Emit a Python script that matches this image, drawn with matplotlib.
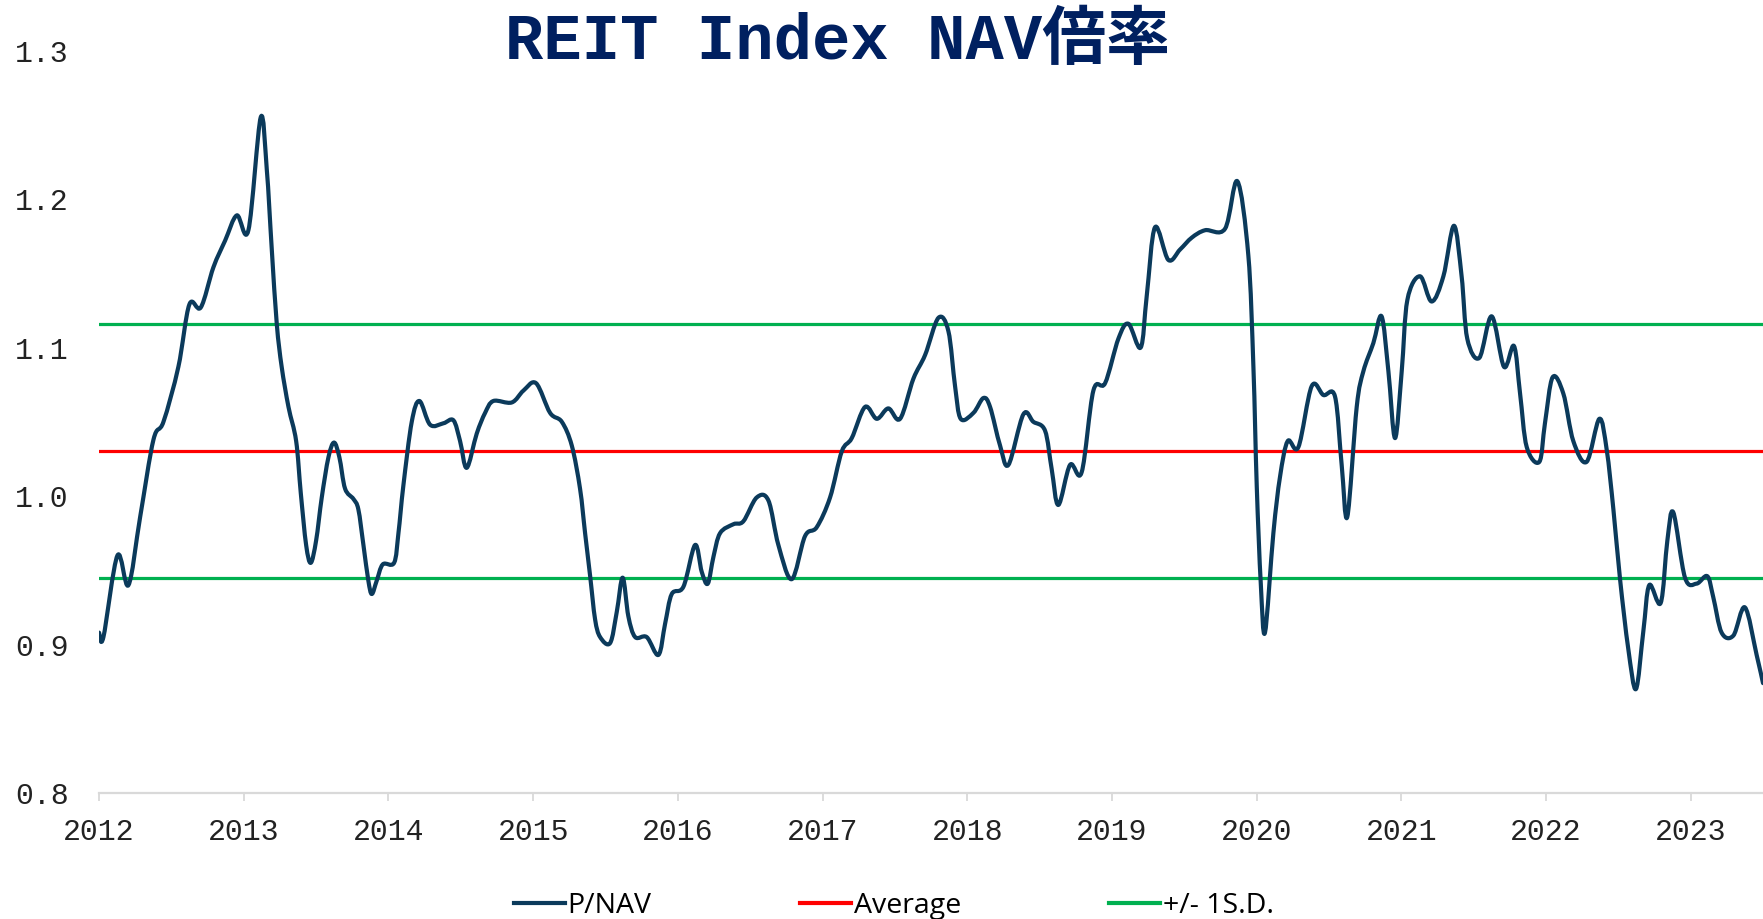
import matplotlib
matplotlib.use("Agg")
import matplotlib.pyplot as plt
from matplotlib.path import Path
from matplotlib.patches import PathPatch
from matplotlib.lines import Line2D

# --- data (decimal year, P/NAV) ---------------------------------------------
year_pos = [
    2012.000, 2012.030, 2012.127, 2012.203, 2012.284, 2012.376, 2012.445, 2012.548,
    2012.624, 2012.703, 2012.790, 2012.871, 2012.952, 2013.032, 2013.117, 2013.159,
    2013.193, 2013.228, 2013.262, 2013.309, 2013.362, 2013.394, 2013.431, 2013.463,
    2013.500, 2013.539, 2013.585, 2013.624, 2013.661, 2013.700, 2013.758, 2013.792,
    2013.827, 2013.861, 2013.885, 2013.919, 2013.961, 2014.039, 2014.069, 2014.103,
    2014.161, 2014.214, 2014.288, 2014.380, 2014.449, 2014.495, 2014.541, 2014.610,
    2014.668, 2014.725, 2014.852, 2014.933, 2015.020, 2015.117, 2015.198, 2015.267,
    2015.324, 2015.359, 2015.394, 2015.428, 2015.463, 2015.532, 2015.578, 2015.619,
    2015.658, 2015.705, 2015.785, 2015.866, 2015.912, 2015.958, 2016.039, 2016.119,
    2016.165, 2016.207, 2016.246, 2016.292, 2016.384, 2016.453, 2016.545, 2016.626,
    2016.695, 2016.787, 2016.879, 2016.960, 2017.052, 2017.133, 2017.202, 2017.294,
    2017.375, 2017.455, 2017.536, 2017.628, 2017.709, 2017.801, 2017.870, 2017.916,
    2017.955, 2018.043, 2018.112, 2018.158, 2018.227, 2018.285, 2018.388, 2018.457,
    2018.538, 2018.584, 2018.630, 2018.711, 2018.791, 2018.872, 2018.953, 2019.045,
    2019.114, 2019.199, 2019.241, 2019.298, 2019.390, 2019.471, 2019.552, 2019.644,
    2019.782, 2019.867, 2019.943, 2019.978, 2020.001, 2020.029, 2020.058, 2020.116,
    2020.162, 2020.215, 2020.289, 2020.381, 2020.462, 2020.542, 2020.588, 2020.627,
    2020.692, 2020.738, 2020.807, 2020.864, 2020.911, 2020.957, 2021.003, 2021.042,
    2021.129, 2021.210, 2021.291, 2021.364, 2021.417, 2021.456, 2021.539, 2021.625,
    2021.710, 2021.779, 2021.821, 2021.867, 2021.954, 2021.993, 2022.046, 2022.120,
    2022.189, 2022.281, 2022.369, 2022.420, 2022.466, 2022.512, 2022.569, 2022.622,
    2022.673, 2022.714, 2022.793, 2022.839, 2022.880, 2022.961, 2023.041, 2023.115,
    2023.156, 2023.214, 2023.295, 2023.375, 2023.456, 2023.500,
]
p_nav = [
    0.908, 0.905, 0.960, 0.940, 0.986, 1.038, 1.050, 1.087,
    1.129, 1.127, 1.154, 1.172, 1.189, 1.179, 1.255, 1.220,
    1.167, 1.116, 1.087, 1.060, 1.037, 1.002, 0.967, 0.955,
    0.970, 0.999, 1.026, 1.036, 1.026, 1.005, 0.998, 0.991,
    0.967, 0.943, 0.934, 0.943, 0.954, 0.955, 0.975, 1.007,
    1.050, 1.064, 1.048, 1.049, 1.051, 1.037, 1.019, 1.042,
    1.056, 1.064, 1.063, 1.071, 1.076, 1.056, 1.050, 1.034,
    1.005, 0.975, 0.946, 0.917, 0.905, 0.901, 0.922, 0.945,
    0.919, 0.905, 0.905, 0.893, 0.914, 0.934, 0.939, 0.967,
    0.949, 0.941, 0.959, 0.975, 0.981, 0.983, 0.999, 0.997,
    0.967, 0.944, 0.973, 0.979, 0.999, 1.030, 1.039, 1.060,
    1.052, 1.059, 1.052, 1.079, 1.095, 1.120, 1.111, 1.074,
    1.052, 1.056, 1.066, 1.060, 1.034, 1.021, 1.055, 1.050,
    1.044, 1.018, 0.994, 1.021, 1.016, 1.071, 1.076, 1.106,
    1.116, 1.100, 1.135, 1.181, 1.159, 1.166, 1.174, 1.179,
    1.180, 1.212, 1.162, 1.087, 1.007, 0.941, 0.908, 0.975,
    1.013, 1.037, 1.033, 1.074, 1.068, 1.067, 1.021, 0.986,
    1.060, 1.084, 1.103, 1.121, 1.084, 1.039, 1.084, 1.132,
    1.148, 1.131, 1.148, 1.182, 1.148, 1.106, 1.093, 1.121,
    1.087, 1.101, 1.069, 1.033, 1.023, 1.049, 1.080, 1.069,
    1.037, 1.023, 1.052, 1.031, 0.991, 0.944, 0.897, 0.870,
    0.909, 0.940, 0.928, 0.970, 0.989, 0.945, 0.941, 0.946,
    0.932, 0.908, 0.906, 0.925, 0.893, 0.874,
]
average = 1.0303
sd_upper = 1.1159
sd_lower = 0.9447

year_ticks = list(range(2012, 2024))
y_ticks = [0.8, 0.9, 1.0, 1.1, 1.2, 1.3]

NAVY = "#0B3A5B"
RED = "#FF0000"
GREEN = "#00B050"
AXIS_GREY = "#D9D9D9"
MONO = ["Liberation Mono", "DejaVu Sans Mono"]


def smooth_path(xs, ys):
    """Excel-style 'smoothed line': cubic Bezier segments through every point."""
    n = len(xs)
    verts = [(xs[0], ys[0])]
    codes = [Path.MOVETO]
    for i in range(n - 1):
        ip, inn = max(i - 1, 0), min(i + 2, n - 1)
        c1 = (xs[i] + (xs[i + 1] - xs[ip]) / 6.0, ys[i] + (ys[i + 1] - ys[ip]) / 6.0)
        c2 = (xs[i + 1] - (xs[inn] - xs[i]) / 6.0, ys[i + 1] - (ys[inn] - ys[i]) / 6.0)
        verts += [c1, c2, (xs[i + 1], ys[i + 1])]
        codes += [Path.CURVE4] * 3
    return Path(verts, codes)


fig = plt.figure(figsize=(17.63, 9.19), dpi=100, facecolor="white")
ax = fig.add_axes([0.0562, 0.1371, 0.9438, 0.8079])

x0, x1 = year_pos[0], 2023.5
ax.add_patch(PathPatch(smooth_path(year_pos, p_nav), facecolor="none", edgecolor=NAVY,
                       lw=3.0, joinstyle="round", capstyle="round", zorder=3))
ax.plot([x0, x1], [average, average], color=RED, lw=2.3, zorder=2)
ax.plot([x0, x1], [sd_upper, sd_upper], color=GREEN, lw=2.3, zorder=2)
ax.plot([x0, x1], [sd_lower, sd_lower], color=GREEN, lw=2.3, zorder=2)

ax.set_xlim(2012, 2023.5)
ax.set_ylim(0.8, 1.3)

for side in ("top", "right", "left"):
    ax.spines[side].set_visible(False)
ax.spines["bottom"].set_color(AXIS_GREY)
ax.spines["bottom"].set_linewidth(1.6)

ax.set_xticks(year_ticks)
ax.set_xticklabels([str(y) for y in year_ticks], family=MONO, fontsize=21.5, color="#222222")
ax.set_yticks(y_ticks)
ax.set_yticklabels([f"{v:.1f}" for v in y_ticks], family=MONO, fontsize=21.5, color="#222222")
ax.tick_params(axis="x", length=6, width=1.3, color=AXIS_GREY, pad=12)
ax.tick_params(axis="y", length=0, pad=22)

fig.text(0.475, 0.955, "REIT Index NAV倍率", ha="center", va="center",
         family=["Liberation Mono", "Noto Sans CJK JP"], fontweight="bold",
         fontsize=46, color="#002060")

handles = [Line2D([], [], color=NAVY, lw=3.0),
           Line2D([], [], color=RED, lw=3.0),
           Line2D([], [], color=GREEN, lw=3.0)]
labels = ["P/NAV", "Average", "+/- 1S.D."]
fig.legend(handles, labels, loc="center", bbox_to_anchor=(0.507, 0.014), ncol=3,
           frameon=False, prop={"family": "Open Sans", "size": 20.5},
           handlelength=1.8, handletextpad=0.1, columnspacing=5.2)

fig.savefig("out.png", dpi=100, facecolor="white")
